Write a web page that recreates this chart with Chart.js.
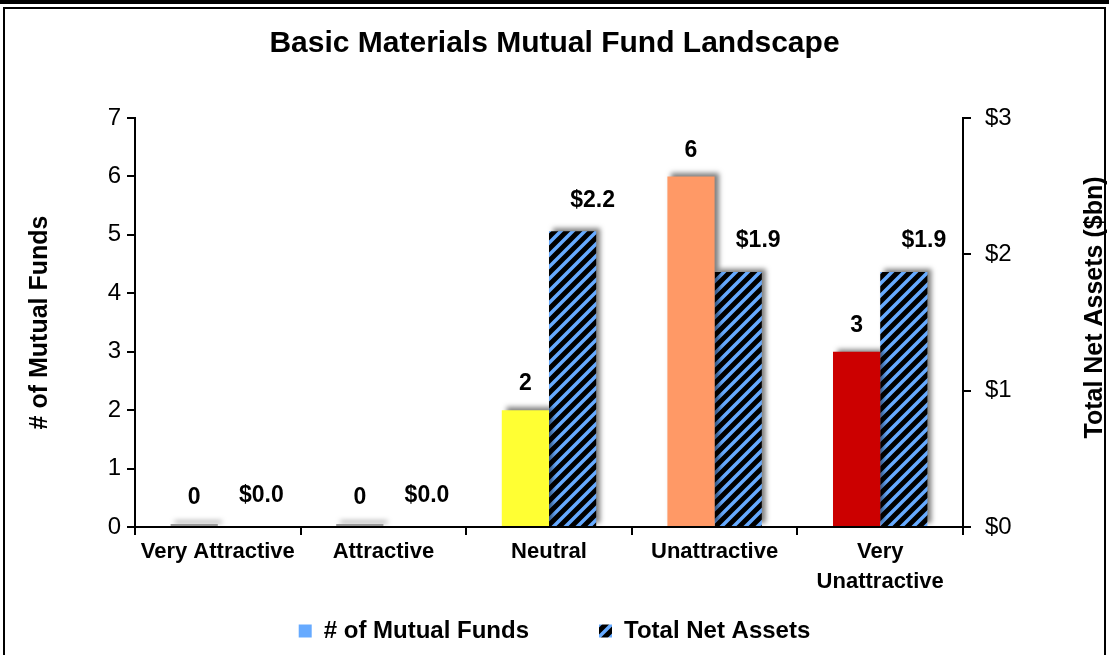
<!DOCTYPE html>
<html>
<head>
<meta charset="utf-8">
<script src="https://cdn.jsdelivr.net/npm/chart.js@4/dist/chart.umd.min.js"></script>
<style>
  body { margin: 0; background: #fff; }
  #wrap { position: relative; width: 1109px; height: 655px; overflow: hidden; }
  #topbar { position: absolute; left: 0; top: 0; width: 1109px; height: 4px; background: #000; }
  #frame { position: absolute; left: 3px; top: 7px; width: 1099px; height: 660px; border: 2px solid #000; pointer-events: none; }
  canvas { position: absolute; left: 0; top: 0; }
</style>
</head>
<body>
<div id="wrap">
  <canvas id="mycanvas1" width="1109" height="655"></canvas>
  <div id="topbar"></div>
  <div id="frame"></div>
</div>
<script>
var categories = ['Very Attractive', 'Attractive', 'Neutral', 'Unattractive', ['Very', 'Unattractive']];
var fundCounts = [0, 0, 2, 6, 3];
var netAssets = [0.0, 0.0, 2.17, 1.87, 1.87];
var fundColors = ['#999999', '#999999', '#FFFF33', '#FF9966', '#CC0000'];
var leftTicks = [0, 1, 2, 3, 4, 5, 6, 7];
var rightTicks = [0, 1, 2, 3];
var rightTitle = 'Total Net Assets ($bn)';

var FONT = '"Liberation Sans", Arial, sans-serif';

// black with light blue diagonal stripes
function stripes() {
  var n = 12;
  var c = document.createElement('canvas');
  c.width = n; c.height = n;
  var x = c.getContext('2d');
  x.fillStyle = '#000';
  x.fillRect(0, 0, n, n);
  x.strokeStyle = '#66AAFF';
  x.lineWidth = 3.5;
  x.beginPath();
  x.moveTo(-n, n); x.lineTo(n, -n);
  x.moveTo(-2, n + 2); x.lineTo(n + 2, -2);
  x.moveTo(0, 2 * n); x.lineTo(2 * n, 0);
  x.stroke();
  return x.createPattern(c, 'repeat');
}
var stripePattern = stripes();

var shadowPlugin = {
  id: 'barShadow',
  beforeDatasetDraw: function(chart) {
    var ctx = chart.ctx;
    ctx.save();
    ctx.shadowColor = 'rgba(0,0,0,0.5)';
    ctx.shadowBlur = 5;
    ctx.shadowOffsetX = 4;
    ctx.shadowOffsetY = -3;
  },
  afterDatasetDraw: function(chart) {
    chart.ctx.restore();
  }
};

var labelPlugin = {
  id: 'barLabels',
  afterDatasetsDraw: function(chart) {
    var ctx = chart.ctx;
    ctx.save();
    ctx.font = 'bold 23px ' + FONT;
    ctx.fillStyle = '#000';
    ctx.textAlign = 'center';
    ctx.textBaseline = 'middle';
    chart.getDatasetMeta(0).data.forEach(function(bar, i) {
      ctx.fillText(String(fundCounts[i]), bar.x, Math.min(bar.y, bar.base) - 26);
    });
    chart.getDatasetMeta(1).data.forEach(function(bar, i) {
      ctx.fillText('$' + netAssets[i].toFixed(1), bar.x + 20, bar.y - 31);
    });
    // right axis title, reading bottom to top like the left one
    var s = chart.scales.y1;
    ctx.font = 'bold 25px ' + FONT;
    ctx.translate(s.right - 14, (chart.chartArea.top + chart.chartArea.bottom) / 2 - 15);
    ctx.rotate(-Math.PI / 2);
    ctx.fillText(rightTitle, 0, 0);
    ctx.restore();
  }
};

var chartdata = {
  labels: categories,
  datasets: [
    {
      label: '# of Mutual Funds',
      data: fundCounts,
      backgroundColor: fundColors,
      minBarLength: 3,
      yAxisID: 'y'
    },
    {
      label: 'Total Net Assets',
      data: netAssets,
      backgroundColor: stripePattern,
      yAxisID: 'y1'
    }
  ]
};

var ctx = document.getElementById('mycanvas1');
var barGraph = new Chart(ctx, {
  type: 'bar',
  data: chartdata,
  plugins: [shadowPlugin, labelPlugin],
  options: {
    responsive: false,
    animation: false,
    layout: { padding: { left: 0, right: 0, top: 0, bottom: 2 } },
    datasets: { bar: { categoryPercentage: 0.57, barPercentage: 1.0 } },
    plugins: {
      title: {
        display: true,
        text: 'Basic Materials Mutual Fund Landscape',
        color: '#000',
        font: { family: FONT, size: 30, weight: 'bold', lineHeight: 1.2 },
        padding: { top: 26, bottom: 56 }
      },
      legend: {
        position: 'bottom',
        labels: {
          color: '#000',
          font: { family: FONT, size: 24, weight: 'bold' },
          boxWidth: 13,
          boxHeight: 13,
          padding: 10,
          generateLabels: function() {
            return [
              { text: '# of Mutual Funds\u2003\u2003\u2002', fillStyle: '#66AAFF', strokeStyle: '#66AAFF', lineWidth: 0, datasetIndex: 0 },
              { text: 'Total Net Assets', fillStyle: stripePattern, strokeStyle: '#000', lineWidth: 0, datasetIndex: 1 }
            ];
          }
        }
      },
      tooltip: { enabled: false }
    },
    scales: {
      x: {
        afterFit: function(axis) { axis.height = 82; },
        grid: { offset: true, drawOnChartArea: false, color: '#000', tickLength: 8, lineWidth: 2 },
        border: { color: '#000', width: 2 },
        ticks: { color: '#000', font: { family: FONT, size: 22, weight: 'bold', lineHeight: 1.36 }, maxRotation: 0, padding: 2 }
      },
      y: {
        position: 'left',
        min: 0, max: 7,
        afterBuildTicks: function(axis) { axis.ticks = leftTicks.map(function(v) { return { value: v }; }); },
        afterFit: function(axis) { axis.width = 135; },
        grid: { drawOnChartArea: false, color: '#000', tickLength: 8, lineWidth: 2 },
        border: { color: '#000', width: 2 },
        ticks: { color: '#000', font: { family: FONT, size: 24 }, padding: 6 },
        title: { display: true, text: '# of Mutual Funds', color: '#000', font: { family: FONT, size: 25, weight: 'bold', lineHeight: 1.2 }, padding: { top: 25, bottom: 10 } }
      },
      y1: {
        position: 'right',
        min: 0, max: 3,
        afterBuildTicks: function(axis) { axis.ticks = rightTicks.map(function(v) { return { value: v }; }); },
        afterFit: function(axis) { axis.width = 146; },
        grid: { drawOnChartArea: false, color: '#000', tickLength: 8, lineWidth: 2 },
        border: { color: '#000', width: 2 },
        ticks: { color: '#000', font: { family: FONT, size: 24 }, padding: 14, callback: function(v) { return '$' + v; } }
      }
    }
  }
});
</script>
</body>
</html>
